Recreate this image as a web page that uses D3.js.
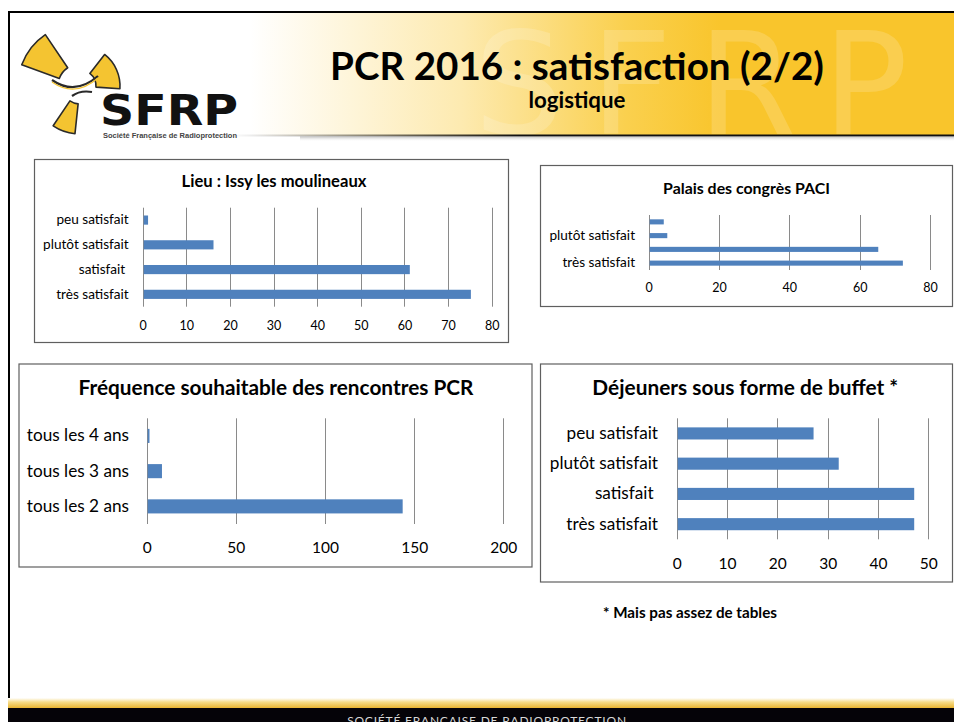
<!DOCTYPE html>
<html>
<head>
<meta charset="utf-8">
<script src="https://cdn.jsdelivr.net/npm/d3@7"></script>
<style>
  body { margin: 0; background: #fff; }
  svg { display: block; font-family: Lato, 'Open Sans', sans-serif; }
</style>
</head>
<body>
<div id="slide"></div>
<script>
// données ------------------------------------------------------------------
const satCats = ['peu satisfait', 'plutôt satisfait', 'satisfait ', 'très satisfait'];
const lieuValues = [1, 16, 61, 75];
const lieuTicks = [0, 10, 20, 30, 40, 50, 60, 70, 80];
const palaisValues = [4, 5, 65, 72];
const palaisTicks = [0, 20, 40, 60, 80];
const freqCats = ['tous les 4 ans', 'tous les 3 ans', 'tous les 2 ans'];
const freqValues = [1, 8, 143];
const freqTicks = [0, 50, 100, 150, 200];
const dejValues = [27, 32, 47, 47];
const dejTicks = [0, 10, 20, 30, 40, 50];

const width = 954, height = 722;
const svg = d3.select('#slide').append('svg')
  .attr('width', width)
  .attr('height', height);
const defs = svg.append('defs');

// ajuste la taille de police à une largeur donnée
const fitText = (sel, w) => {
  const fs = parseFloat(sel.attr('font-size'));
  sel.attr('font-size', fs * w / sel.node().getComputedTextLength());
  return sel;
};

// bandeau du haut -----------------------------------------------------------
const hg = defs.append('linearGradient').attr('id', 'head')
  .attr('gradientUnits', 'userSpaceOnUse')
  .attr('x1', 250).attr('x2', 720).attr('y1', 0).attr('y2', 0);
hg.append('stop').attr('offset', 0).attr('stop-color', '#ffffff');
hg.append('stop').attr('offset', 0.45).attr('stop-color', '#fdeab0');
hg.append('stop').attr('offset', 0.8).attr('stop-color', '#fad04e');
hg.append('stop').attr('offset', 1).attr('stop-color', '#f9c52c');
svg.append('rect').attr('x', 9).attr('y', 12).attr('width', width - 9).attr('height', 124)
  .attr('fill', 'url(#head)');

// filigrane SFRP
svg.append('text')
  .attr('x', 474).attr('y', 134)
  .attr('font-family', 'DejaVu Sans')
  .attr('font-size', 142)
  .attr('letter-spacing', 26)
  .attr('fill', '#ffffff').attr('fill-opacity', 0.17)
  .text('SFRP');

// ligne sous le bandeau
const lg = defs.append('linearGradient').attr('id', 'headline')
  .attr('gradientUnits', 'userSpaceOnUse')
  .attr('x1', 230).attr('x2', 520).attr('y1', 0).attr('y2', 0);
lg.append('stop').attr('offset', 0).attr('stop-color', '#000').attr('stop-opacity', 0);
lg.append('stop').attr('offset', 1).attr('stop-color', '#111').attr('stop-opacity', 1);
svg.append('rect').attr('x', 230).attr('y', 134.5).attr('width', width - 230).attr('height', 2)
  .attr('fill', 'url(#headline)');
const sg = defs.append('linearGradient').attr('id', 'shadow')
  .attr('x1', 0).attr('x2', 0).attr('y1', 0).attr('y2', 1);
sg.append('stop').attr('offset', 0).attr('stop-color', '#999').attr('stop-opacity', 0.6);
sg.append('stop').attr('offset', 1).attr('stop-color', '#fff').attr('stop-opacity', 0);
svg.append('rect').attr('x', 300).attr('y', 136.5).attr('width', width - 300).attr('height', 5)
  .attr('fill', 'url(#shadow)');

// cadre
svg.append('line').attr('x1', 8).attr('x2', width).attr('y1', 12).attr('y2', 12)
  .attr('stroke', '#000').attr('stroke-width', 2);
svg.append('line').attr('x1', 9).attr('x2', 9).attr('y1', 11).attr('y2', 708)
  .attr('stroke', '#000').attr('stroke-width', 2);

// logo ----------------------------------------------------------------------
const logo = svg.append('g').attr('transform', 'translate(80,86)');
const blade = d3.arc();
const blades = [
  {innerRadius: 22, outerRadius: 62, startAngle: -70, endAngle: -34},
  {innerRadius: 16, outerRadius: 40, startAngle: 38, endAngle: 94},
  {innerRadius: 18, outerRadius: 48, startAngle: 186, endAngle: 214}
];
logo.selectAll('path.blade').data(blades).join('path')
  .attr('class', 'blade')
  .attr('d', d => blade({
    innerRadius: d.innerRadius, outerRadius: d.outerRadius,
    startAngle: d.startAngle * Math.PI / 180, endAngle: d.endAngle * Math.PI / 180
  }))
  .attr('fill', '#f4c431')
  .attr('stroke', '#2a2a2a')
  .attr('stroke-width', 1.6)
  .attr('stroke-linejoin', 'round');
logo.append('path')
  .attr('d', 'M-28,-6 Q-5,10 18,-10 M-8,10 Q0,4 12,6')
  .attr('fill', 'none').attr('stroke', '#2a2a2a').attr('stroke-width', 2.2);
logo.append('path')
  .attr('d', 'M-28,-4 Q-5,12 18,-8')
  .attr('fill', 'none').attr('stroke', '#f4c431').attr('stroke-width', 1.2);
svg.append('text')
  .attr('x', 100).attr('y', 125)
  .attr('font-family', 'DejaVu Sans').attr('font-weight', 'bold')
  .attr('font-size', 42)
  .attr('textLength', 138).attr('lengthAdjust', 'spacingAndGlyphs')
  .attr('fill', '#111')
  .text('SFRP');
svg.append('text')
  .attr('x', 103).attr('y', 138)
  .attr('font-family', 'Liberation Sans Narrow, Liberation Sans').attr('font-weight', 'bold')
  .attr('font-size', 6.5)
  .attr('textLength', 134).attr('lengthAdjust', 'spacingAndGlyphs')
  .attr('fill', '#444')
  .text('Société Française de Radioprotection');

// titres --------------------------------------------------------------------
fitText(svg.append('text')
  .attr('x', 577).attr('y', 80)
  .attr('text-anchor', 'middle')
  .attr('font-weight', 'bold').attr('font-size', 34)
  .attr('fill', '#000')
  .text('PCR 2016 : satisfaction (2/2)'), 494);
fitText(svg.append('text')
  .attr('x', 577).attr('y', 108)
  .attr('text-anchor', 'middle')
  .attr('font-weight', 'bold').attr('font-size', 16)
  .attr('fill', '#000')
  .text('logistique'), 97);

// graphique en barres horizontales -------------------------------------------
const barChart = o => {
  const g = svg.append('g');
  g.append('rect')
    .attr('x', o.box[0] + 0.5).attr('y', o.box[1] + 0.5)
    .attr('width', o.box[2] - o.box[0]).attr('height', o.box[3] - o.box[1])
    .attr('fill', '#fff').attr('stroke', '#5f5f5f').attr('stroke-width', 1.2);
  fitText(g.append('text')
    .attr('x', o.title[0]).attr('y', o.title[1])
    .attr('text-anchor', 'middle')
    .attr('font-weight', 'bold').attr('font-size', o.titleSize)
    .attr('fill', '#000')
    .text(o.titleText), o.title[2]);

  const x = d3.scaleLinear()
    .domain([0, o.ticks[o.ticks.length - 1]])
    .range([o.plot[0], o.plot[1]]);
  const y = d3.scaleBand()
    .domain(o.cats)
    .range([o.plot[2], o.plot[3]])
    .paddingInner(o.pad).paddingOuter(o.pad / 2);

  // grille
  g.append('g').selectAll('line').data(o.ticks).join('line')
    .attr('x1', d => Math.round(x(d)) + 0.5).attr('x2', d => Math.round(x(d)) + 0.5)
    .attr('y1', o.plot[2]).attr('y2', o.plot[3])
    .attr('stroke', '#8a8a8a').attr('stroke-width', 1);

  // barres
  g.append('g').selectAll('rect').data(o.values).join('rect')
    .attr('x', x(0) + 1)
    .attr('y', (d, i) => y(o.cats[i]))
    .attr('width', d => x(d) - x(0))
    .attr('height', y.bandwidth())
    .attr('fill', '#4f81bd');

  // axes
  const xa = g.append('g')
    .attr('transform', 'translate(0,' + o.plot[3] + ')')
    .call(d3.axisBottom(x).tickValues(o.ticks).tickSize(0).tickPadding(o.xPad));
  const ya = g.append('g')
    .attr('transform', 'translate(' + o.plot[0] + ',0)')
    .call(d3.axisLeft(y).tickSize(0).tickPadding(o.yPad).tickFormat(o.catFormat || (d => d)));
  [[xa, o.tickSize], [ya, o.catSize]].forEach(([a, fs]) => {
    a.select('.domain').remove();
    a.selectAll('text')
      .attr('font-family', 'Lato, sans-serif')
      .attr('font-size', fs)
      .attr('fill', '#000')
      .style('white-space', 'pre');
  });
};

barChart({
  box: [34, 159, 508, 342],
  title: [274, 187, 185], titleSize: 13.5, titleText: 'Lieu : Issy les moulineaux',
  plot: [142.7, 491.7, 207.7, 306.7],
  cats: satCats, values: lieuValues, ticks: lieuTicks,
  pad: 0.63, tickSize: 12.5, catSize: 13.6, xPad: 14, yPad: 14
});
barChart({
  box: [540, 165, 952, 306],
  title: [746.5, 194, 167], titleSize: 13.5, titleText: 'Palais des congrès PACI',
  plot: [648.7, 930, 215, 270],
  cats: satCats, values: palaisValues, ticks: palaisTicks,
  pad: 0.63, tickSize: 12.5, catSize: 13.6, xPad: 13.5, yPad: 13.7,
  catFormat: (d, i) => i % 2 === 1 ? d : ''
});
barChart({
  box: [18.5, 363.5, 531.5, 566.5],
  title: [276, 395, 395], titleSize: 17.5, titleText: 'Fréquence souhaitable des rencontres PCR',
  plot: [146.7, 503.3, 418.3, 524],
  cats: freqCats, values: freqValues, ticks: freqTicks,
  pad: 0.6, tickSize: 15.5, catSize: 17.2, xPad: 17.5, yPad: 17.7
});
barChart({
  box: [540, 363.5, 952, 581.5],
  title: [745.3, 395, 306], titleSize: 17.5, titleText: 'Déjeuners sous forme de buffet *',
  plot: [676.7, 928.3, 418.3, 539.3],
  cats: satCats, values: dejValues, ticks: dejTicks,
  pad: 0.6, tickSize: 15.5, catSize: 17.2, xPad: 19, yPad: 18.7
});

// note
fitText(svg.append('text')
  .attr('x', 690).attr('y', 617.5)
  .attr('text-anchor', 'middle')
  .attr('font-weight', 'bold').attr('font-size', 12)
  .attr('fill', '#000')
  .text('* Mais pas assez de tables'), 174);

// pied de page ----------------------------------------------------------------
const fg = defs.append('linearGradient').attr('id', 'foot')
  .attr('x1', 0).attr('x2', 0).attr('y1', 0).attr('y2', 1);
fg.append('stop').attr('offset', 0).attr('stop-color', '#ffffff');
fg.append('stop').attr('offset', 0.4).attr('stop-color', '#f6dc8a');
fg.append('stop').attr('offset', 1).attr('stop-color', '#e9b431');
svg.append('rect').attr('x', 8).attr('y', 698).attr('width', width - 8).attr('height', 10)
  .attr('fill', 'url(#foot)');
svg.append('rect').attr('x', 8).attr('y', 708).attr('width', width - 8).attr('height', 14)
  .attr('fill', '#050308');
svg.append('text')
  .attr('x', 487).attr('y', 725)
  .attr('text-anchor', 'middle')
  .attr('font-family', 'Lato, sans-serif')
  .attr('font-size', 12)
  .attr('letter-spacing', 0.8)
  .attr('fill', '#d8d8d8')
  .text('SOCIÉTÉ FRANÇAISE DE RADIOPROTECTION');
</script>
</body>
</html>
